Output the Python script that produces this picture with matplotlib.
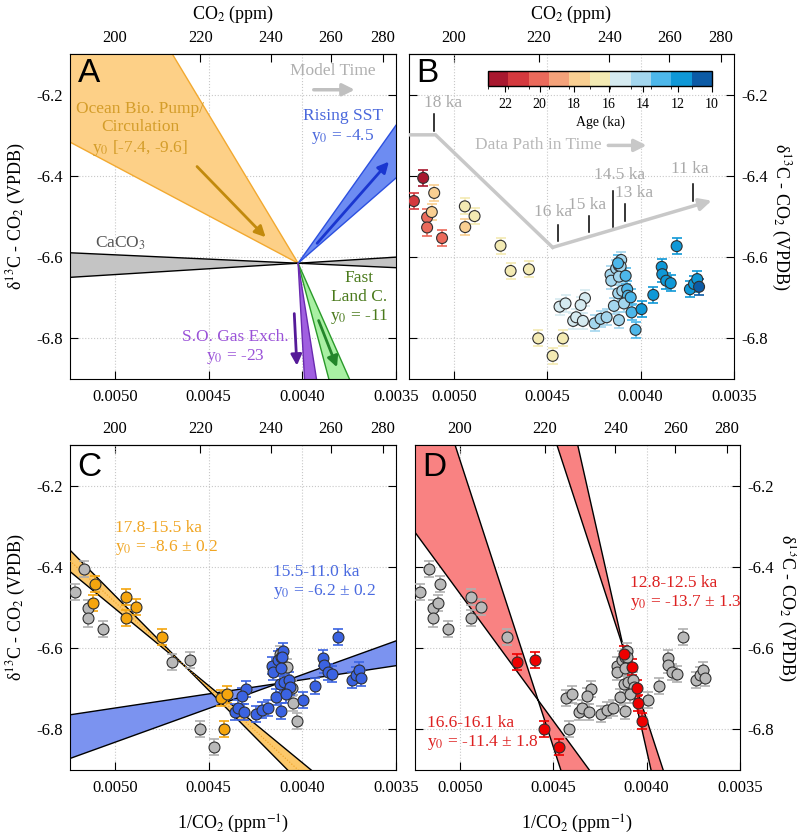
import numpy as np
import matplotlib
matplotlib.use("Agg")
import matplotlib.pyplot as plt
from matplotlib.colors import ListedColormap, BoundaryNorm
from matplotlib.cm import ScalarMappable

plt.rcParams["font.family"] = "Liberation Serif"
plt.rcParams["mathtext.fontset"] = "stix"
plt.rcParams["axes.unicode_minus"] = False
plt.rcParams["font.size"] = 11

# ice core data: 1/CO2 (ppm^-1), d13C-CO2 (permil), age (ka)
inv_co2 = [0.005164, 0.005214, 0.005143, 0.005143, 0.005063, 0.005105, 0.005118,
           0.004941, 0.004939, 0.004889, 0.004750, 0.004696, 0.004598, 0.004548,
           0.004416, 0.004471,
           0.004434, 0.004402, 0.004298, 0.004321, 0.004361, 0.004345, 0.004309,
           0.004246, 0.004214, 0.004182, 0.004143, 0.004116, 0.004161, 0.004157,
           0.004131, 0.004116, 0.004104, 0.004107, 0.004116, 0.004120, 0.004098,
           0.004072, 0.004068, 0.004089,
           0.004121, 0.004080, 0.004053, 0.004048, 0.004027,
           0.003995, 0.003932, 0.003887, 0.003884, 0.003863, 0.003839, 0.003807,
           0.003736, 0.003714, 0.003697, 0.003687]
d13c = [-6.405, -6.462, -6.502, -6.527, -6.553, -6.442, -6.489,
        -6.475, -6.526, -6.499, -6.572, -6.634, -6.630, -6.800,
        -6.800, -6.843,
        -6.722, -6.714, -6.701, -6.718, -6.757, -6.748, -6.757,
        -6.763, -6.752, -6.748, -6.720, -6.755, -6.643, -6.658,
        -6.628, -6.621, -6.607, -6.623, -6.648, -6.689, -6.683,
        -6.679, -6.695, -6.714,
        -6.615, -6.646, -6.699, -6.736, -6.779,
        -6.728, -6.693, -6.624, -6.642, -6.658, -6.664, -6.573,
        -6.679, -6.666, -6.654, -6.673]
age = [22.5, 21.3, 20.4, 19.8, 20.2, 17.6, 17.7,
       17.0, 17.3, 16.9, 16.8, 16.6, 16.4, 16.2,
       16.0, 16.1,
       15.8, 15.7, 15.4, 15.3, 15.2, 15.1, 15.0,
       14.7, 14.6, 14.5, 14.4, 14.3, 14.2, 14.1,
       14.0, 13.9, 13.8, 13.7, 13.6, 13.6, 13.6,
       13.5, 13.4, 13.6,
       12.8, 12.7, 12.7, 12.6, 12.5,
       12.3, 12.2, 12.0, 11.9, 11.8, 11.7, 11.6,
       11.4, 11.3, 11.2, 11.0]
d13c_err = 0.02

age_colors = ["#a8182f", "#d4393e", "#eb6a5b", "#f4a27a", "#f9cf92", "#f3eab3",
              "#d5eaf0", "#a3d6ee", "#4db7ea", "#0f98d7", "#0c5ba6"]
age_ticks = [22, 20, 18, 16, 14, 12, 10]

# panel A model wedges: pivot and intercept (y0) ranges
pivot_A = (1 / 248.6, -6.615)
ocean_y0 = (-7.6, -9.7)
caco3_y0 = (-6.5, -6.7)
sst_y0 = (-4.0, -5.0)
land_y0 = (-10.8, -13.6)
gas_y0 = (-18.3, -40.0)

# fits in C and D: intercept range and pivot
fitC_early_y0, fitC_early_pivot = (-8.4, -8.8), (0.00463, -6.643)
fitC_late_y0, fitC_late_pivot = (-6.0, -6.4), (0.00413, -6.687)
fitD_early_y0, fitD_early_pivot = (-9.6, -13.2), (0.004581, -6.728)
fitD_late_y0, fitD_late_pivot = (-12.4, -15.0), (0.004121, -6.605)

# data path in B
path_x = [0.005236, 0.005098, 0.004471, 0.003620]
path_y = [-6.299, -6.299, -6.576, -6.461]
mark_labels = ["18 ka", "16 ka", "15 ka", "14.5 ka", "13 ka", "11 ka"]
mark_x = [0.005106, 0.004444, 0.004275, 0.004150, 0.004084, 0.003718]
mark_y0 = [-6.247, -6.520, -6.499, -6.437, -6.470, -6.420]
mark_y1 = [-6.289, -6.561, -6.539, -6.526, -6.510, -6.461]
label_x = [0.005059, 0.004471, 0.004286, 0.004111, 0.004034, 0.003736]
label_y = [-6.220, -6.489, -6.471, -6.397, -6.442, -6.383]

XL = (0.00524, 0.0035)
YL = (-6.9, -6.1)
W, H = 797, 840
FS = 12.5


def box(l, t, w, h):
    return [l / W, 1 - (t + h) / H, w / W, h / H]


def inv(x):
    x = np.asarray(x, dtype=float)
    with np.errstate(divide="ignore"):
        return 1.0 / x


def wedge(ax, pivot, y0s, xend, fc, ec, lw=1.0, z=2):
    xc, yc = pivot
    ys = [y0 + (yc - y0) / xc * xend for y0 in y0s]
    ax.fill([xc, xend, xend], [yc, ys[0], ys[1]], fc=fc, ec="none", zorder=z)
    for yy in ys:
        ax.plot([xc, xend], [yc, yy], color=ec, lw=lw, zorder=z + 0.1)


def setup(ax, side, top_label, bottom_label):
    ax.set_xlim(*XL)
    ax.set_ylim(*YL)
    ax.set_xticks([0.005, 0.0045, 0.004, 0.0035])
    ax.set_xticklabels(["0.0050", "0.0045", "0.0040", "0.0035"])
    ax.set_yticks([-6.8, -6.6, -6.4, -6.2])
    ax.grid(ls=":", color="#c8c8c8", lw=0.8)
    ax.set_axisbelow(True)
    ax.tick_params(direction="in", length=6, left=True, right=True, labelsize=12)
    ax.tick_params(axis="x", pad=7)
    ax.tick_params(axis="y", pad=5)
    ylab = r"δ$^{13}$C - CO$_2$ (VPDB)"
    if side == "right":
        ax.tick_params(labelleft=False, labelright=True)
        ax.yaxis.set_label_position("right")
        ax.set_ylabel(ylab, fontsize=13, rotation=270, labelpad=18)
    else:
        ax.set_ylabel(ylab, fontsize=13, labelpad=6)
    sec = ax.secondary_xaxis("top", functions=(inv, inv))
    sec.set_xticks([200, 220, 240, 260, 280])
    sec.tick_params(direction="in", length=6, labelsize=12, pad=6)
    if top_label:
        sec.set_xlabel("CO$_2$ (ppm)", fontsize=13, labelpad=8)
    if bottom_label:
        ax.set_xlabel("1/CO$_2$ (ppm$^{-1}$)", fontsize=13, labelpad=12)


def letter(ax, s, y=0.94):
    ax.text(0.058, y, s, transform=ax.transAxes, fontsize=24,
            family="Liberation Sans", ha="center", va="center", zorder=10)


def points(ax, idx, color, ecol):
    for i in idx:
        ax.errorbar(inv_co2[i], d13c[i], yerr=d13c_err, fmt="none", ecolor=ecol,
                    elinewidth=1.2, capsize=3.5, capthick=1.2, zorder=4)
    ax.scatter([inv_co2[i] for i in idx], [d13c[i] for i in idx], s=62,
               c=color, edgecolors="#303030", linewidths=0.8, zorder=5)


def arrow(ax, x0, y0, x1, y1, color, lw=2.0, ms=16):
    ax.annotate("", xy=(x1, y1), xytext=(x0, y0),
                arrowprops=dict(arrowstyle="-|>", color=color, lw=lw,
                                mutation_scale=ms, shrinkA=0, shrinkB=0), zorder=6)


fig = plt.figure(figsize=(W / 100, H / 100), dpi=100)
axA = fig.add_axes(box(70, 54, 326, 325))
axB = fig.add_axes(box(409, 54, 325, 325))
axC = fig.add_axes(box(70, 445, 326, 325))
axD = fig.add_axes(box(415, 445, 325, 325))

# ---------------- A ----------------
wedge(axA, pivot_A, ocean_y0, XL[0], "#fdd087", "#f2a930")
wedge(axA, pivot_A, caco3_y0, XL[0], "#c4c4c4", "black")
wedge(axA, pivot_A, caco3_y0, XL[1], "#c4c4c4", "black")
wedge(axA, pivot_A, sst_y0, XL[1], "#6d8cf2", "#2c50e0")
wedge(axA, pivot_A, land_y0, XL[1], "#a9f0a3", "#2a9a2a")
wedge(axA, pivot_A, gas_y0, XL[1], "#a05fe0", "#6a2ab0")

arrow(axA, 0.004562, -6.377, 0.004196, -6.551, "#c28a0c")
arrow(axA, 0.003921, -6.566, 0.003538, -6.365, "#1a36d0")
arrow(axA, 0.003913, -6.756, 0.003815, -6.871, "#23862a")
arrow(axA, 0.004043, -6.739, 0.004029, -6.867, "#551a98")
arrow(axA, 0.003939, -6.188, 0.003720, -6.188, "#c0c0c0", lw=2.5, ms=18)

axA.text(0.003838, -6.143, "Model Time", color="#b0b0b0", fontsize=FS,
         ha="center", va="center")
axA.text(0.004866, -6.286, "Ocean Bio. Pump/\nCirculation\ny$_0$ [-7.4, -9.6]",
         color="#d49d2a", fontsize=FS, ha="center", va="center")
axA.text(0.003784, -6.279, "Rising SST\ny$_0$ = -4.5", color="#4a68dc",
         fontsize=FS, ha="center", va="center")
axA.text(0.004973, -6.565, "CaCO$_3$", color="#555555", fontsize=FS,
         ha="center", va="center")
axA.text(0.003698, -6.701, "Fast\nLand C.\ny$_0$ = -11", color="#4a7a1c",
         fontsize=FS, ha="center", va="center")
axA.text(0.004357, -6.822, "S.O. Gas Exch.\ny$_0$ = -23", color="#9a52d8",
         fontsize=FS, ha="center", va="center")
letter(axA, "A")
setup(axA, "left", True, False)

# ---------------- B ----------------
cmap = ListedColormap(age_colors[::-1])
norm = BoundaryNorm(np.linspace(10, 23, 12), cmap.N)
order = np.argsort(age)[::-1]
for i in order:
    col = cmap(norm(age[i]))
    axB.errorbar(inv_co2[i], d13c[i], yerr=d13c_err, fmt="none", ecolor=col,
                 elinewidth=1.2, capsize=3.5, capthick=1.2, zorder=4)
axB.scatter(inv_co2, d13c, s=62, c=[cmap(norm(a)) for a in age],
            edgecolors="#303030", linewidths=0.8, zorder=5)

axB.plot(path_x[:-1], path_y[:-1], color="#c8c8c8", lw=2.5, zorder=3,
         solid_joinstyle="miter")
arrow(axB, path_x[-2], path_y[-2], path_x[-1], path_y[-1], "#c8c8c8", lw=2.5, ms=18)
axB.text(0.00455, -6.323, "Data Path in Time", color="#b8b8b8", fontsize=FS,
         ha="center", va="center")
arrow(axB, 0.004173, -6.325, 0.003968, -6.325, "#c8c8c8", lw=2.5, ms=18)
for lab, mx, a0, a1, lx, ly in zip(mark_labels, mark_x, mark_y0, mark_y1, label_x, label_y):
    axB.plot([mx, mx], [a0, a1], color="black", lw=1.1, zorder=4)
    axB.text(lx, ly, lab, color="#aaaaaa", fontsize=FS, ha="center", va="center")
letter(axB, "B")
setup(axB, "right", True, False)

cax = fig.add_axes(box(488, 71, 224, 15))
cb = fig.colorbar(ScalarMappable(norm=norm, cmap=cmap), cax=cax,
                  orientation="horizontal", ticks=age_ticks)
cax.invert_xaxis()
cax.tick_params(direction="out", length=4, labelsize=10, width=0.8, pad=5)
cb.outline.set_linewidth(1.0)
cb.set_label("Age (ka)", fontsize=10, labelpad=3)

# ---------------- C ----------------
in_d = [(16.1 <= a <= 16.6) or (12.5 <= a <= 12.8) for a in age]
c_orange = [i for i, a in enumerate(age) if 15.5 < a <= 17.8 and not in_d[i]]
c_blue = [i for i, a in enumerate(age) if 11.0 <= a <= 15.5 and not in_d[i]]
c_gray = [i for i in range(len(age)) if i not in c_orange and i not in c_blue]

for xe in XL:
    wedge(axC, fitC_late_pivot, fitC_late_y0, xe, "#7b93f0", "black")
    wedge(axC, fitC_early_pivot, fitC_early_y0, xe, "#fcc86a", "black", z=2.5)
axC.plot(XL, [-8.6 + (fitC_early_pivot[1] + 8.6) / fitC_early_pivot[0] * x for x in XL],
         color="#f0a020", lw=0.8, ls=":", zorder=2.8)
points(axC, c_gray, "#b9b9b9", "#b0b0b0")
points(axC, c_orange, "#f5a50e", "#f5a50e")
points(axC, c_blue, "#3b63e2", "#3b63e2")
axC.text(0.00500, -6.3305, "17.8-15.5 ka\ny$_0$ = -8.6 ± 0.2", color="#f0a523",
         fontsize=FS, ha="left", va="center")
axC.text(0.004159, -6.4384, "15.5-11.0 ka\ny$_0$ = -6.2 ± 0.2", color="#4a6ae0",
         fontsize=FS, ha="left", va="center")
letter(axC, "C", 0.932)
setup(axC, "left", False, True)

# ---------------- D ----------------
for xe in XL:
    wedge(axD, fitD_early_pivot, fitD_early_y0, xe, "#f98282", "black")
    wedge(axD, fitD_late_pivot, fitD_late_y0, xe, "#f98282", "black")
d_red = [i for i in range(len(age)) if in_d[i]]
d_gray = [i for i in range(len(age)) if not in_d[i]]
points(axD, d_gray, "#b9b9b9", "#b0b0b0")
points(axD, d_red, "#ee0000", "#ee0000")
axD.text(0.004089, -6.466, "12.8-12.5 ka\ny$_0$ = -13.7 ± 1.3", color="#dd2020",
         fontsize=FS, ha="left", va="center")
axD.text(0.005178, -6.81, "16.6-16.1 ka\ny$_0$ = -11.4 ± 1.8", color="#dd2020",
         fontsize=FS, ha="left", va="center")
letter(axD, "D", 0.932)
setup(axD, "right", False, True)

fig.savefig("out.png", dpi=100)
